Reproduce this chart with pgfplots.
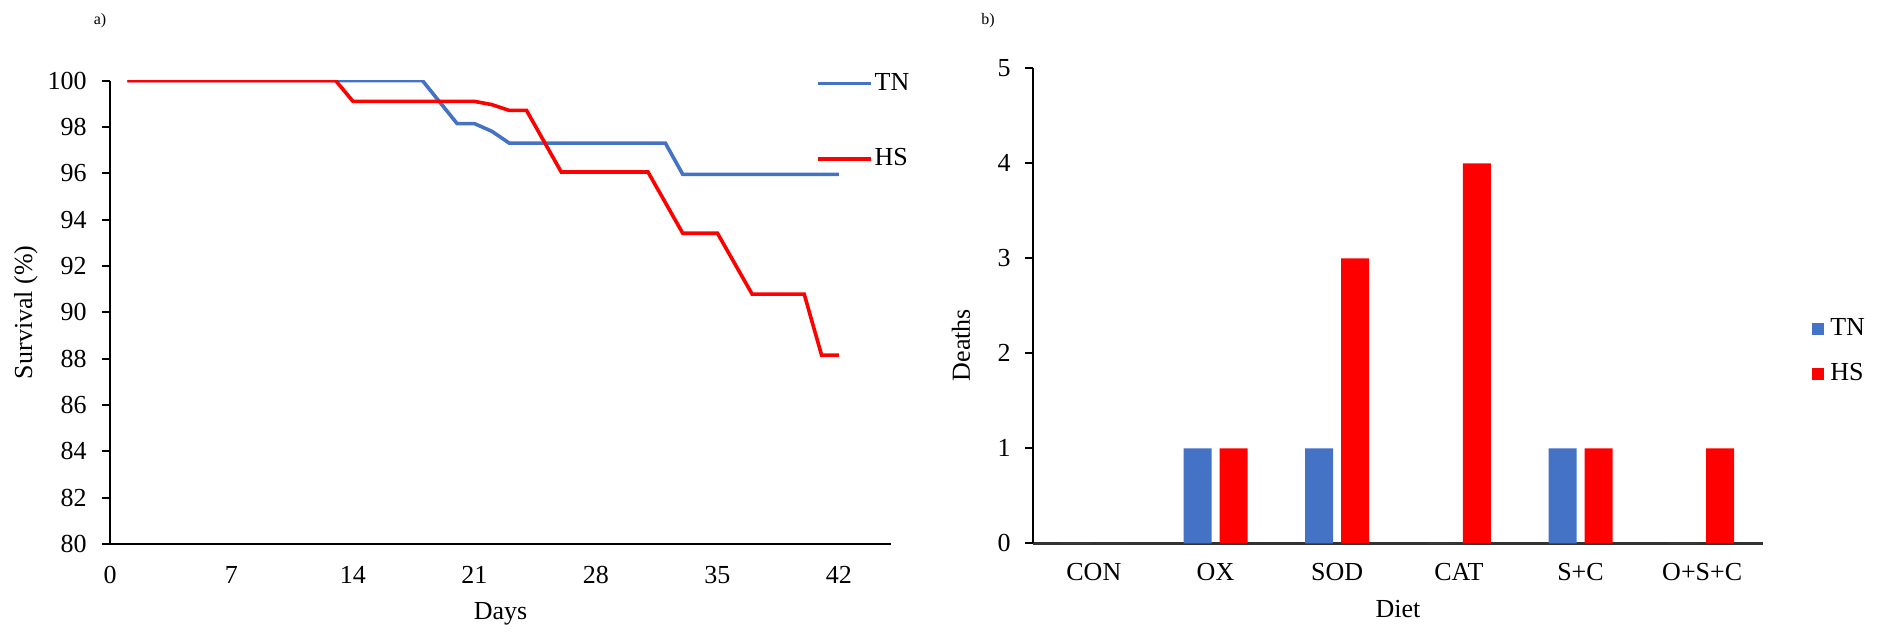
\documentclass[border=0pt]{standalone}
\usepackage{fontspec}
\setmainfont{Liberation Serif}
\usepackage{pgfplots}
\pgfplotsset{compat=1.18}
\definecolor{tnblue}{HTML}{4472C4}
\definecolor{hsred}{HTML}{FF0000}
\begin{document}
\begin{tikzpicture}
\path (0pt,0pt) rectangle (941.5pt,317pt);
\node[anchor=center, font=\fontsize{8}{9}\selectfont] at (50pt,306.5pt) {a)};
\node[anchor=center, font=\fontsize{8}{9}\selectfont] at (494pt,306.5pt) {b)};
\begin{axis}[
  at={(55pt,45pt)}, anchor=south west,
  scale only axis, width=390.5pt, height=231.75pt,
  xmin=0, xmax=45, ymin=80, ymax=100,
  axis x line*=bottom, axis y line*=left,
  axis line style={black, line width=1pt},
  x axis line style={line width=1.3pt},
  xtick={0,7,14,21,28,35,42},
  ytick={80,82,...,100},
  xtick style={draw=none},
  ytick style={black, line width=1pt},
  tick align=outside, major tick length=4pt,
  /pgf/number format/assume math mode=true,
  tick label style={font=\fontsize{13}{15}\selectfont},
  xticklabel style={inner sep=0pt, anchor=north, yshift=-7pt},
  yticklabel style={inner sep=0pt, anchor=east, xshift=-7.5pt},
  xlabel={Days}, ylabel={Survival (\%)},
  every axis x label/.style={at={(axis description cs:0.5,0)}, anchor=center, yshift=-35pt, font=\fontsize{13}{15}\selectfont},
  every axis y label/.style={at={(axis description cs:-0.1076,0.5)}, rotate=90, anchor=center, font=\fontsize{13}{15}\selectfont},
  legend style={at={(axis description cs:0.904,1.016)}, anchor=north west, draw=none, fill=none, inner sep=0pt, row sep=27.6pt, font=\fontsize{13}{15}\selectfont,
    nodes={inner sep=0pt}},
  legend cell align=left,
  legend image code/.code={\draw[#1] (0pt,0pt) -- (26.5pt,0pt);},
  /tikz/every odd column/.append style={column sep=0.8pt},
]
\addplot[tnblue, line width=1.8pt] coordinates {
 (1,100) (18,100) (20,98.14) (21,98.14) (22,97.81) (23,97.30) (32,97.30) (33,95.95) (42,95.95)};
\addlegendentry{TN}
\addplot[hsred, line width=1.8pt] coordinates {
 (1,100) (13,100) (14,99.10) (21,99.10) (22,98.96) (23,98.71) (24,98.71) (26,96.05) (31,96.05) (33,93.41) (35,93.41) (37,90.78) (40,90.78) (41,88.15) (42,88.15)};
\addlegendentry{HS}
\end{axis}
\begin{axis}[
  at={(516.5pt,45.35pt)}, anchor=south west,
  scale only axis, width=365pt, height=237.5pt,
  xmin=-0.5, xmax=5.5, ymin=0, ymax=5,
  axis x line*=bottom, axis y line*=left,
  axis line style={black, line width=1pt},
  x axis line style={line width=1.5pt, black!80},
  xtick={0,1,2,3,4,5},
  xticklabels={CON,OX,SOD,CAT,S+C,O+S+C},
  ytick={0,1,...,5},
  xtick style={draw=none},
  ytick style={black, line width=1pt},
  tick align=outside, major tick length=4pt,
  /pgf/number format/assume math mode=true,
  tick label style={font=\fontsize{13}{15}\selectfont},
  xticklabel style={inner sep=0pt, anchor=north, yshift=-5.8pt},
  yticklabel style={inner sep=0pt, anchor=east, xshift=-7pt},
  xlabel={Diet}, ylabel={Deaths},
  every axis x label/.style={at={(axis description cs:0.5,0)}, anchor=center, yshift=-33pt, font=\fontsize{13}{15}\selectfont},
  every axis y label/.style={at={(axis description cs:-0.0986,0.4175)}, rotate=90, anchor=center, font=\fontsize{13}{15}\selectfont},
  ybar, bar width=14pt,
  legend style={at={(axis description cs:1.067,0.4737)}, anchor=north west, draw=none, fill=none, inner sep=0pt, row sep=12.5pt, font=\fontsize{13}{15}\selectfont,
    nodes={inner sep=0pt}},
  legend cell align=left,
  legend image code/.code={\fill[#1] (0pt,-3pt) rectangle (6pt,3pt);},
  /tikz/every odd column/.append style={column sep=3pt},
]
\addplot[fill=tnblue, draw=none, bar shift=-9pt] coordinates {(0,0) (1,1) (2,1) (3,0) (4,1) (5,0)};
\addlegendentry{TN}
\addplot[fill=hsred, draw=none, bar shift=9pt] coordinates {(0,0) (1,1) (2,3) (3,4) (4,1) (5,1)};
\addlegendentry{HS}
\end{axis}
\end{tikzpicture}
\end{document}
